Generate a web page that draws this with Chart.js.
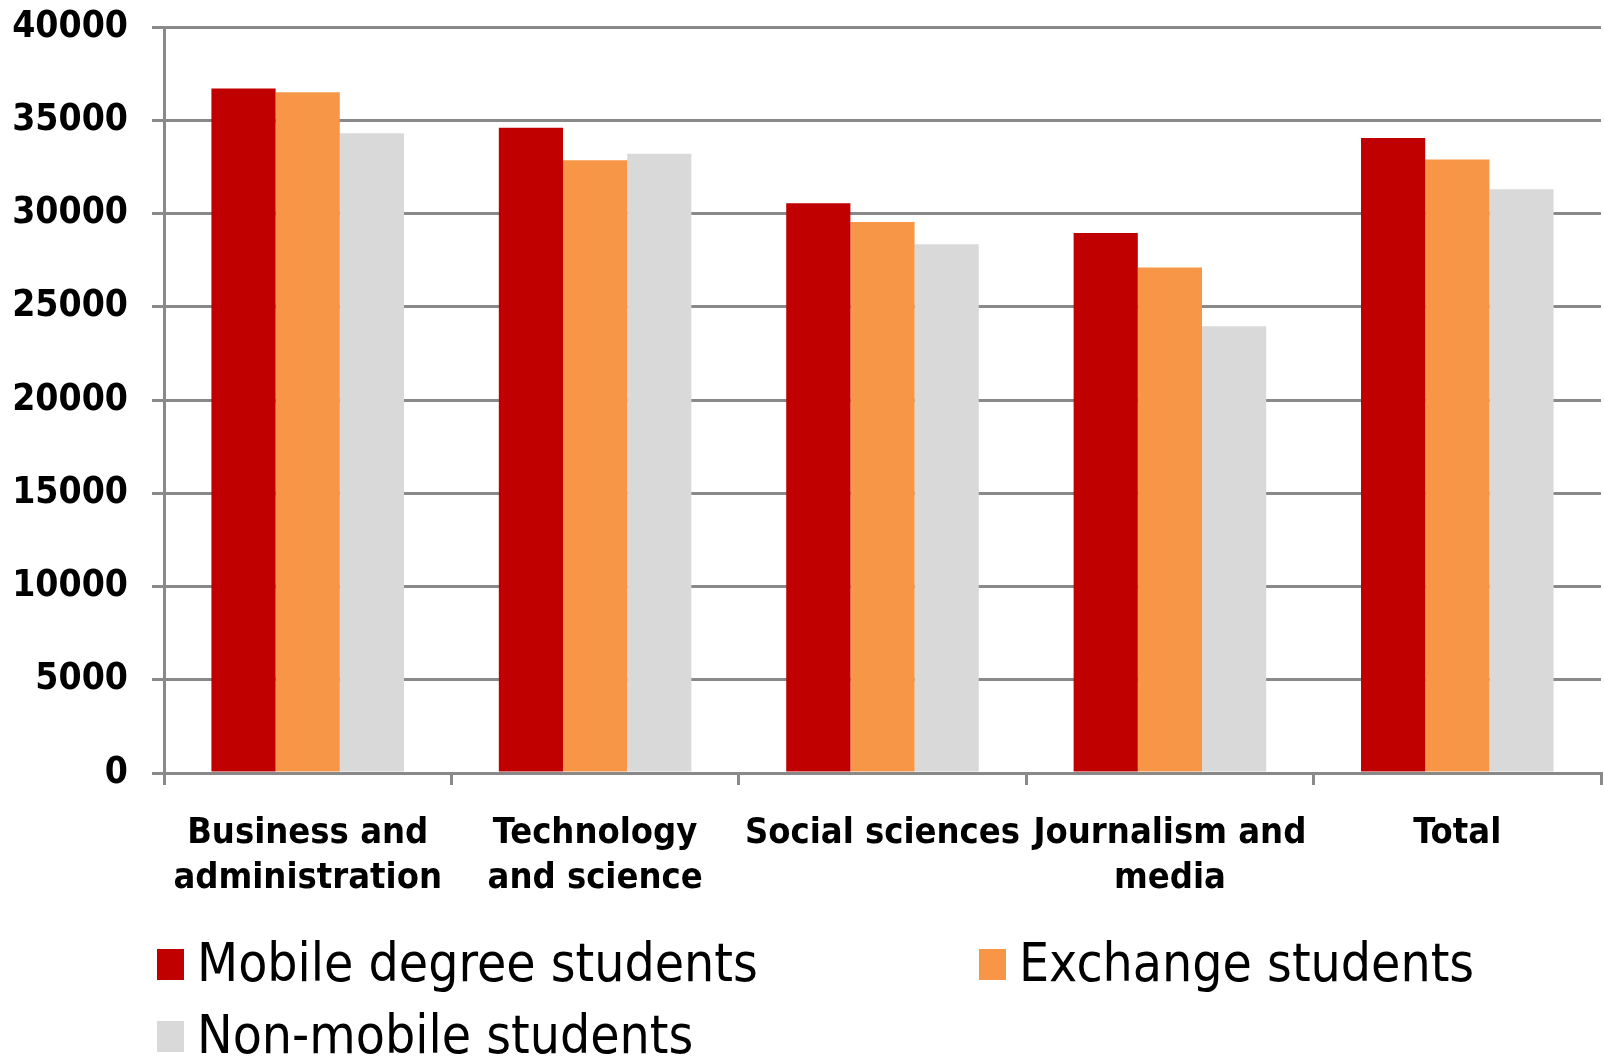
<!DOCTYPE html>
<html>
<head>
<meta charset="utf-8">
<script src="https://cdn.jsdelivr.net/npm/chart.js@4.4.1/dist/chart.umd.min.js"></script>
<style>
body { margin: 0; background: #fff; }
#wrap { width: 1604px; height: 1058px; position: relative; }
</style>
</head>
<body>
<div id="wrap"><canvas id="chart"></canvas></div>
<script>
const categories = [["Business and","administration"], ["Technology","and science"], "Social sciences", ["Journalism and","media"], "Total"];
const seriesNames = ["Mobile degree students", "Exchange students", "Non-mobile students"];
const mobileDegree = [36700, 34600, 30550, 28950, 34050];
const exchange = [36500, 32850, 29550, 27100, 32900];
const nonMobile = [34300, 33200, 28350, 23950, 31300];
const yTicks = [0, 5000, 10000, 15000, 20000, 25000, 30000, 35000, 40000];

const colors = ["#C00000", "#F79646", "#D9D9D9"];
const gridColor = "#898989";

// legend drawn by hand: two columns, left aligned
const legendSlots = [{x:157, y:965}, {x:979, y:965}, {x:157, y:1037}];

const gridLegend = {
    id: "gridLegend",
    afterDraw(chart) {
        let ctx = chart.ctx;
        ctx.save();
        ctx.font = "53px 'DejaVu Sans Condensed'";
        ctx.textBaseline = "middle";
        chart.data.datasets.forEach(function(ds, i) {
            let s = legendSlots[i];
            ctx.fillStyle = ds.backgroundColor;
            ctx.fillRect(s.x, s.y - 16, 27, 31);
            ctx.fillStyle = "#000";
            ctx.fillText(ds.label, s.x + 40, s.y + 2);
        });
        ctx.restore();
    }
};

const datasets = [mobileDegree, exchange, nonMobile].map(function(vals, i) {
    return {
        label: seriesNames[i],
        data: vals,
        backgroundColor: colors[i],
        borderWidth: 0,
        categoryPercentage: 0.67,
        barPercentage: 1.0
    };
});

new Chart("chart", {
    type: "bar",
    data: { labels: categories, datasets: datasets },
    options: {
        responsive: true,
        maintainAspectRatio: false,
        animation: false,
        layout: { padding: { left: 12, right: 3, top: 27, bottom: 105 } },
        plugins: {
            legend: { display: false },
            tooltip: { enabled: false }
        },
        scales: {
            x: {
                afterFit: function(s) { s.height = 180; s.paddingLeft = 0; s.paddingRight = 0; },
                grid: { drawOnChartArea: false, drawTicks: true, tickLength: 12, color: gridColor, lineWidth: 3, offset: true },
                border: { display: true, color: gridColor, width: 3 },
                ticks: {
                    color: "#000",
                    maxRotation: 0,
                    autoSkip: false,
                    padding: 26,
                    font: { family: "'DejaVu Sans Condensed'", weight: "bold", size: 36, lineHeight: 1.25 }
                }
            },
            y: {
                min: yTicks[0],
                max: yTicks[yTicks.length - 1],
                afterFit: function(s) { s.width = 152; s.paddingTop = 0; s.paddingBottom = 0; },
                afterBuildTicks: function(s) { s.ticks = yTicks.map(function(v) { return {value: v}; }); },
                grid: { color: gridColor, lineWidth: 3, tickLength: 12 },
                border: { display: true, color: gridColor, width: 3 },
                ticks: {
                    color: "#000",
                    padding: 24,
                    callback: function(v) { return String(v); },
                    font: { family: "'DejaVu Sans Condensed'", weight: "bold", size: 37 }
                }
            }
        }
    },
    plugins: [gridLegend]
});
</script>
</body>
</html>
